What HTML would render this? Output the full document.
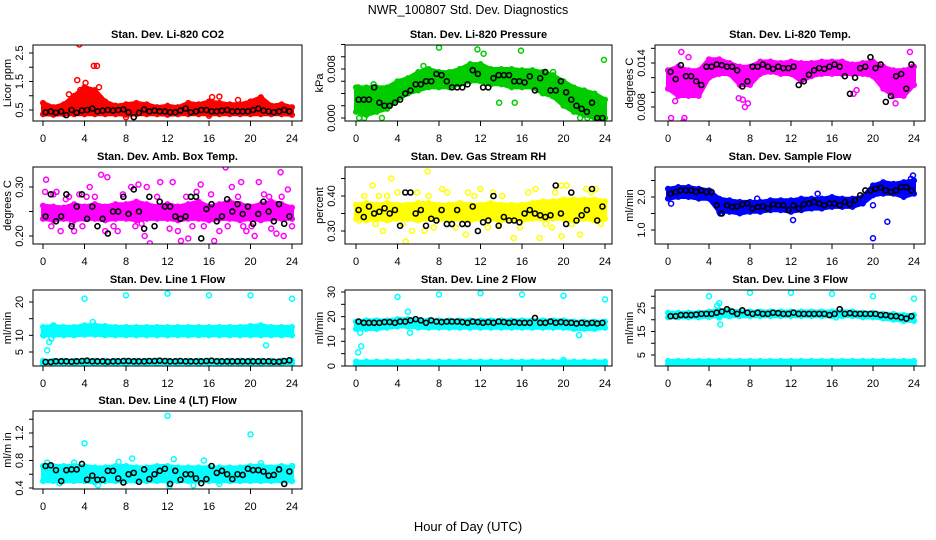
<!DOCTYPE html>
<html><head><meta charset="utf-8"><style>
html,body{margin:0;padding:0;background:#fff;}
svg{display:block;font-family:"Liberation Sans",Arial,sans-serif;}
</style></head><body>
<svg id="chart" width="936" height="540" viewBox="0 0 936 540" xmlns="http://www.w3.org/2000/svg">
<rect x="0" y="0" width="936" height="540" fill="#fff"/>
<text x="468" y="14" text-anchor="middle" font-size="12.5">NWR_100807  Std. Dev. Diagnostics</text>
<text x="468" y="531" text-anchor="middle" font-size="13">Hour of Day (UTC)</text>
</svg>
<script>
// ---- data (hourly envelopes 0..24, outliers, black half-hour means) ----
const hours = [0,1,2,3,4,5,6,7,8,9,10,11,12,13,14,15,16,17,18,19,20,21,22,23,24];
const xTicks = [0,4,8,12,16,20,24];

const co2Lo = [0.35,0.33,0.35,0.35,0.35,0.35,0.35,0.35,0.33,0.35,0.35,0.35,0.33,0.35,0.35,0.35,0.35,0.35,0.35,0.35,0.35,0.35,0.35,0.35,0.33];
const co2Hi = [0.75,0.6,0.7,1.0,1.3,1.2,0.8,0.65,0.7,0.75,0.7,0.6,0.65,0.6,0.75,0.7,0.8,0.75,0.7,0.7,0.8,0.95,0.65,0.7,0.6];
const co2OutX = [3.5,4.9,5.2,3.3,4.1,5.4,3.6,2.5,16.3,17,18.8,8,16,4.5,5.0,3.9];
const co2OutY = [2.8,2.05,2.05,1.55,1.45,1.3,1.2,1.05,0.95,0.97,0.85,0.25,0.3,1.2,1.0,1.1];
const co2Black = [0.42,0.45,0.4,0.45,0.32,0.5,0.4,0.48,0.5,0.55,0.45,0.48,0.5,0.48,0.5,0.52,0.42,0.25,0.4,0.52,0.45,0.48,0.45,0.45,0.42,0.42,0.48,0.55,0.42,0.45,0.5,0.5,0.45,0.45,0.48,0.5,0.45,0.45,0.45,0.45,0.5,0.55,0.48,0.45,0.42,0.45,0.5,0.45];

const presLo = [0.001,0.0005,0.001,0.0015,0.003,0.004,0.0045,0.005,0.005,0.005,0.0055,0.006,0.006,0.0055,0.0055,0.005,0.005,0.005,0.004,0.0035,0.002,0.001,0.0005,0.0,0.0];
const presHi = [0.005,0.005,0.005,0.005,0.006,0.0065,0.0075,0.008,0.0075,0.0075,0.008,0.0088,0.0088,0.008,0.008,0.008,0.0078,0.0078,0.0075,0.007,0.006,0.005,0.0045,0.004,0.003];
const presOutX = [8,11.7,12.3,15.9,23.9,0.3,0.8,2.5,21.6,22.3,13.8,15.3,0.2,1.7,19,6.5];
const presOutY = [0.0115,0.0112,0.0105,0.011,0.0095,0,0,0,0,0,0.0025,0.0025,0.005,0.0055,0.0075,0.0085];
const presBlack = [0.003,0.003,0.003,0.005,0.0025,0.002,0.002,0.0025,0.003,0.004,0.0045,0.0055,0.0055,0.006,0.006,0.0072,0.007,0.006,0.005,0.005,0.005,0.0055,0.0078,0.0072,0.005,0.005,0.0065,0.007,0.007,0.007,0.006,0.006,0.0058,0.0068,0.0045,0.0065,0.0075,0.0045,0.0045,0.006,0.0042,0.003,0.002,0.0015,0.001,0.0025,0.0,0.0];

const tempLo = [0.0105,0.0095,0.0095,0.0095,0.012,0.0125,0.0125,0.011,0.011,0.0125,0.0128,0.0125,0.0125,0.0115,0.0122,0.0125,0.0125,0.0125,0.0125,0.0125,0.0122,0.0105,0.0095,0.0095,0.011];
const tempHi = [0.013,0.0135,0.013,0.013,0.0145,0.0145,0.014,0.0135,0.0135,0.0142,0.0142,0.014,0.0142,0.014,0.014,0.0142,0.0142,0.0142,0.0138,0.014,0.0142,0.0135,0.013,0.013,0.0135];
const tempOutX = [0.3,1.5,1.6,1.3,0.7,7.5,7.8,7.3,18.4,18.1,22.2,23.6,23.9,2.0,6.9];
const tempOutY = [0.0065,0.006,0.0065,0.0155,0.0088,0.008,0.0085,0.009,0.0103,0.0098,0.0085,0.0155,0.0135,0.0148,0.0092];
const tempBlack = [0.0128,0.0118,0.0137,0.0122,0.0122,0.0115,0.011,0.0135,0.0135,0.0138,0.0137,0.0135,0.0135,0.013,0.0108,0.0115,0.0135,0.0135,0.0138,0.0135,0.0132,0.0135,0.0133,0.0133,0.0135,0.011,0.0115,0.0124,0.013,0.0133,0.0132,0.0135,0.0138,0.0135,0.0122,0.0098,0.012,0.0133,0.0135,0.0148,0.0133,0.0138,0.0087,0.0095,0.0122,0.0125,0.0105,0.0138];

const ambLo = [0.235,0.232,0.235,0.232,0.235,0.235,0.232,0.235,0.235,0.232,0.235,0.235,0.235,0.232,0.235,0.235,0.232,0.235,0.235,0.232,0.235,0.232,0.235,0.235,0.235];
const ambHi = [0.262,0.26,0.258,0.265,0.26,0.265,0.26,0.265,0.265,0.27,0.265,0.26,0.265,0.26,0.265,0.27,0.26,0.265,0.27,0.265,0.26,0.265,0.27,0.265,0.258];
const ambOutX = [0.3,0.2,1.3,2.5,3.0,1.7,4.5,5.6,6.2,6.0,7.2,9.2,10.3,9.8,11.3,12.5,13.0,13.3,14.0,15.2,16.5,17.0,17.6,18.2,19.1,19.6,20.4,20.8,22.9,23.2,23.6,22.5,1.0,5.3,8.5,14.8,10.0,3.5,0.8,2.2,3.8,5.0,6.8,7.7,8.9,11.0,12.2,13.8,15.5,16.2,17.8,18.8,20.1,21.3,22.0,23.0,24.0,2.8,4.2,9.5,14.4,19.3,21.8];
const ambOutY = [0.315,0.29,0.29,0.28,0.21,0.21,0.3,0.325,0.32,0.21,0.21,0.305,0.185,0.2,0.31,0.31,0.21,0.19,0.195,0.305,0.19,0.21,0.34,0.3,0.31,0.21,0.2,0.31,0.33,0.2,0.295,0.205,0.285,0.24,0.3,0.29,0.3,0.285,0.22,0.275,0.22,0.28,0.22,0.285,0.22,0.28,0.215,0.28,0.22,0.285,0.22,0.28,0.22,0.285,0.215,0.28,0.22,0.225,0.28,0.225,0.22,0.22,0.28];
const ambBlack = [0.24,0.285,0.23,0.24,0.285,0.22,0.26,0.285,0.235,0.26,0.22,0.235,0.205,0.25,0.25,0.28,0.245,0.295,0.25,0.215,0.28,0.22,0.27,0.26,0.26,0.24,0.235,0.24,0.28,0.28,0.195,0.255,0.265,0.23,0.24,0.275,0.25,0.265,0.245,0.26,0.225,0.245,0.27,0.25,0.23,0.265,0.225,0.24];

const rhLo = [0.335,0.33,0.335,0.33,0.335,0.335,0.33,0.335,0.335,0.33,0.335,0.33,0.335,0.335,0.33,0.335,0.33,0.335,0.335,0.335,0.335,0.33,0.335,0.33,0.335];
const rhHi = [0.375,0.38,0.375,0.38,0.375,0.375,0.38,0.38,0.375,0.375,0.38,0.375,0.375,0.38,0.375,0.375,0.375,0.38,0.385,0.385,0.39,0.39,0.39,0.39,0.385];
const rhOutX = [3.4,1.6,6.9,4.8,8.3,10.8,13.2,15.2,17.7,17.3,19.8,19.8,20.3,22.2,23.1,21.6,0.3,2.6,5.4,6.6,10.6,4.0,12.0,0.8,1.9,3.0,4.5,5.9,7.5,8.8,9.6,11.4,12.7,14.1,15.8,16.6,18.3,19.2,20.8,22.7,23.6,2.2,7.0,13.8,18.9];
const rhOutY = [0.45,0.43,0.47,0.27,0.42,0.41,0.41,0.28,0.28,0.42,0.285,0.43,0.43,0.42,0.42,0.29,0.33,0.3,0.3,0.3,0.29,0.41,0.42,0.4,0.32,0.4,0.32,0.41,0.31,0.41,0.31,0.4,0.31,0.4,0.31,0.41,0.32,0.41,0.32,0.41,0.32,0.4,0.4,0.32,0.31];
const rhBlack = [0.36,0.34,0.37,0.35,0.355,0.365,0.35,0.36,0.315,0.41,0.41,0.35,0.36,0.315,0.335,0.33,0.36,0.32,0.32,0.36,0.32,0.32,0.37,0.30,0.325,0.33,0.40,0.315,0.34,0.33,0.33,0.325,0.35,0.36,0.35,0.345,0.34,0.345,0.43,0.35,0.32,0.41,0.33,0.345,0.36,0.42,0.33,0.37];

const flowLo = [1.95,2.0,2.0,1.95,1.95,1.55,1.55,1.5,1.55,1.55,1.6,1.6,1.55,1.6,1.65,1.65,1.7,1.7,1.7,1.8,2.05,2.1,2.1,2.0,2.1];
const flowHi = [2.25,2.3,2.3,2.25,2.2,1.95,1.9,1.85,1.85,1.85,1.9,1.9,1.9,1.95,1.95,1.95,2.0,1.95,1.95,2.0,2.35,2.45,2.4,2.45,2.5];
const flowOutX = [20,21.4,12.2,20,5.1,23.9,23.7,0.3,8.7,14.6];
const flowOutY = [0.75,1.25,1.3,1.75,1.5,2.65,2.55,1.8,1.95,2.1];
const flowBlack = [2.1,2.15,2.2,2.2,2.2,2.15,2.2,2.15,2.15,1.75,1.5,1.75,1.7,1.72,1.78,1.8,1.65,1.7,1.72,1.65,1.78,1.75,1.75,1.6,1.75,1.65,1.78,1.8,1.85,1.8,1.75,1.8,1.8,1.75,1.85,1.78,1.9,2.05,2.2,2.2,2.25,2.28,2.2,2.15,2.2,2.3,2.3,2.2];

const l1Lo = [10,10,10,10,10.2,10.2,10,10,10,10,10,10,10,10,10,10,10,10,10,10,10,10,10,10,10];
const l1Hi = [12.5,12.8,12.5,12.5,13,13,12.8,12.5,12.5,12.5,12.5,12.5,12.5,12.5,12.5,12.5,12.5,12.5,12.5,12.5,12.8,13,12.5,12.5,12.5];
const l1Lo2 = [1.6,1.6,1.6,1.6,1.6,1.6,1.6,1.6,1.6,1.6,1.6,1.6,1.6,1.6,1.6,1.6,1.6,1.6,1.6,1.6,1.6,1.6,1.6,1.6,1.6];
const l1Hi2 = [2.4,2.4,2.4,2.4,2.4,2.4,2.4,2.4,2.4,2.4,2.4,2.4,2.4,2.4,2.4,2.4,2.4,2.4,2.4,2.4,2.4,2.4,2.4,2.4,2.4];
const l1OutX = [4,8,12,16,20,24,0.4,0.6,0.8,21.5,0.1,4.8,1,0];
const l1OutY = [21,22,22.5,22,22,21,5.5,8,9,7,10,14,13,1.5];
const l1Black = [2,2,2.2,2.2,2.2,2.1,2.2,2.3,2.4,2.2,2.2,2.2,2.1,2.2,2.2,2.3,2.3,2.2,2.2,2.2,2.3,2.3,2.4,2.3,2.2,2.2,2.3,2.2,2.2,2.2,2.2,2.3,2.4,2.2,2.2,2.2,2.2,2.2,2.2,2.2,2.2,2.2,2.2,2.2,2.1,2.1,2.3,2.5];

const l2Lo = [15,15,15,15.5,16,16,15.5,15.5,15.5,15.5,15.5,15.5,15.5,15.5,15.5,15.5,15.5,15.5,15.5,15.5,15.5,15,15,15,15.5];
const l2Hi = [18,18.5,18.5,18.5,19,19,18.5,18.5,18.5,18.5,18.5,18.5,18.5,18.5,18.5,18.5,18.5,18.5,18.5,18.5,18.5,18,18,18,18];
const l2Lo2 = [0.5,0.5,0.5,0.5,0.5,0.5,0.5,0.5,0.5,0.5,0.5,0.5,0.5,0.5,0.5,0.5,0.5,0.5,0.5,0.5,0.5,0.5,0.5,0.5,0.5];
const l2Hi2 = [1.8,1.8,1.8,1.8,1.8,1.8,1.8,1.8,1.8,1.8,1.8,1.8,1.8,1.8,1.8,1.8,1.8,1.8,1.8,1.8,1.8,1.8,1.8,1.8,1.8];
const l2OutX = [4,8,12,16,20,24,0.2,0.5,0.1,0.4,5,5.2,21.5,20];
const l2OutY = [28,29,29.5,29,28.5,27,5.5,8,16,13.5,22,13.5,12.5,2.5];
const l2Black = [18,17.5,17.5,17.5,17.5,17.8,17.8,17.5,18,18,18.5,19,18.5,17.5,18.5,18,17.8,18,18,18,17.8,17.5,18,17.8,17.5,17.8,17.5,18,17.8,17.5,17.8,17.5,17.5,17.5,19.5,17.5,17.5,18,17.5,17.8,17.5,17.5,17.2,17.5,17.2,17.5,17.2,17.5];

const l3Lo = [21,21,21,21,21.2,21.5,21.5,21.5,21.5,21.5,21.5,21.5,21.5,21.5,21.5,21.5,21.5,21.5,21.5,21,21,20.5,20,19.5,19.5];
const l3Hi = [23,23,23,23,23.5,24,24,23.5,23.5,23.5,23.5,23.5,23.5,23.5,23.5,23.5,23.5,23.5,23.5,23,23,22.5,22.5,22,22];
const l3Lo2 = [1,1,1,1,1,1,1,1,1,1,1,1,1,1,1,1,1,1,1,1,1,1,1,1,1];
const l3Hi2 = [2.5,2.5,2.5,2.5,2.5,2.5,2.5,2.5,2.5,2.5,2.5,2.5,2.5,2.5,2.5,2.5,2.5,2.5,2.5,2.5,2.5,2.5,2.5,2.5,2.5];
const l3OutX = [4,8,12,16,20,24,4.8,5,5.1,5,16.4,15.8];
const l3OutY = [30,31.5,31.5,31,30,29,26,27,18,21,21,22.5];
const l3Black = [21.5,21.5,22,22,22,22.2,22.5,22.5,22.5,23,23.5,24.5,23.5,22.5,24,23,22.5,23,22.5,22.5,23,22.8,22.5,22.5,23,22.5,22.5,22.5,22.5,22.5,22.5,22,22.5,24.5,22.5,22.8,22.5,22.5,22.5,22.5,22.5,22,22,21.5,21.5,21,20.5,21.5];

const l4Lo = [0.5,0.5,0.5,0.5,0.5,0.48,0.5,0.5,0.5,0.5,0.5,0.5,0.5,0.5,0.5,0.5,0.5,0.5,0.5,0.5,0.5,0.5,0.5,0.5,0.5];
const l4Hi = [0.72,0.72,0.72,0.72,0.72,0.7,0.7,0.72,0.72,0.7,0.7,0.72,0.72,0.7,0.7,0.7,0.7,0.7,0.7,0.7,0.72,0.72,0.7,0.72,0.7];
const l4OutX = [4,12,20,8.6,12.6,15.5,5.3,12.2,14.5,0.4,3,7.3,21,24,1.6,17];
const l4OutY = [1.05,1.45,1.18,0.83,0.82,0.8,0.44,0.43,0.44,0.77,0.77,0.78,0.76,0.72,0.47,0.46];
const l4Black = [0.72,0.73,0.66,0.5,0.66,0.67,0.67,0.75,0.52,0.58,0.52,0.52,0.65,0.65,0.54,0.48,0.6,0.62,0.49,0.67,0.53,0.6,0.65,0.68,0.46,0.65,0.52,0.6,0.6,0.54,0.47,0.53,0.72,0.62,0.65,0.6,0.53,0.6,0.59,0.68,0.66,0.66,0.64,0.58,0.59,0.67,0.46,0.64];

// ---- layout ----
const NS = "http://www.w3.org/2000/svg";
const svg = document.getElementById('chart');
const cols = [{l:33,r:302,x0:43,x24:292},{l:345,r:612,x0:356,x24:605},{l:655,r:925,x0:668,x24:914}];
const rows = [{t:45,b:121},{t:167,b:244},{t:290,b:366},{t:411,b:489}];

const panels = [
 {id:'co2',title:'Stan. Dev. Li-820 CO2',ylab:'Licor ppm',c:0,r:0,col:'#ff0000',v1:0.5,p1:110,v2:2.5,p2:53,ticks:[0.5,1,1.5,2,2.5],labs:[0.5,1.5,2.5],fmt:1,lo:co2Lo,hi:co2Hi,ox:co2OutX,oy:co2OutY,bk:co2Black},
 {id:'pressure',title:'Stan. Dev. Li-820 Pressure',ylab:'kPa',c:1,r:0,col:'#00cc00',v1:0,p1:118,v2:0.008,p2:69,ticks:[0,0.002,0.004,0.006,0.008,0.010,0.012,0.014],labs:[0,0.008],fmt:3,lo:presLo,hi:presHi,ox:presOutX,oy:presOutY,bk:presBlack},
 {id:'temp',title:'Stan. Dev. Li-820 Temp.',ylab:'degrees C',c:2,r:0,col:'#ff00ff',v1:0.008,p1:107,v2:0.014,p2:63,ticks:[0.008,0.010,0.012,0.014,0.016],labs:[0.008,0.014],fmt:3,lo:tempLo,hi:tempHi,ox:tempOutX,oy:tempOutY,bk:tempBlack},
 {id:'amb-box-temp',title:'Stan. Dev. Amb. Box Temp.',ylab:'degrees C',c:0,r:1,col:'#ff00ff',v1:0.2,p1:236,v2:0.3,p2:187,ticks:[0.2,0.25,0.3],labs:[0.2,0.3],fmt:2,lo:ambLo,hi:ambHi,ox:ambOutX,oy:ambOutY,bk:ambBlack},
 {id:'gas-rh',title:'Stan. Dev. Gas Stream RH',ylab:'percent',c:1,r:1,col:'#ffff00',v1:0.3,p1:231,v2:0.4,p2:196,ticks:[0.3,0.35,0.4,0.45],labs:[0.3,0.4],fmt:2,lo:rhLo,hi:rhHi,ox:rhOutX,oy:rhOutY,bk:rhBlack},
 {id:'sample-flow',title:'Stan. Dev. Sample Flow',ylab:'ml/min',c:2,r:1,col:'#0000ff',v1:1,p1:230,v2:2,p2:197,ticks:[1,1.5,2,2.5],labs:[1,2],fmt:1,lo:flowLo,hi:flowHi,ox:flowOutX,oy:flowOutY,bk:flowBlack},
 {id:'line1',title:'Stan. Dev. Line 1 Flow',ylab:'ml/min',c:0,r:2,col:'#00ffff',v1:5,p1:352,v2:20,p2:302,ticks:[5,10,15,20],labs:[5,10,20],fmt:0,lo:l1Lo,hi:l1Hi,lo2:l1Lo2,hi2:l1Hi2,ox:l1OutX,oy:l1OutY,bk:l1Black},
 {id:'line2',title:'Stan. Dev. Line 2 Flow',ylab:'ml/min',c:1,r:2,col:'#00ffff',v1:0,p1:366,v2:30,p2:292,ticks:[0,5,10,15,20,25,30],labs:[0,10,20,30],fmt:0,lo:l2Lo,hi:l2Hi,lo2:l2Lo2,hi2:l2Hi2,ox:l2OutX,oy:l2OutY,bk:l2Black},
 {id:'line3',title:'Stan. Dev. Line 3 Flow',ylab:'ml/min',c:2,r:2,col:'#00ffff',v1:5,p1:355,v2:25,p2:308,ticks:[5,10,15,20,25,30],labs:[5,15,25],fmt:0,lo:l3Lo,hi:l3Hi,lo2:l3Lo2,hi2:l3Hi2,ox:l3OutX,oy:l3OutY,bk:l3Black},
 {id:'line4',title:'Stan. Dev. Line 4 (LT) Flow',ylab:'ml/m in',c:0,r:3,col:'#00ffff',v1:0.4,p1:488,v2:1.2,p2:433,ticks:[0.4,0.6,0.8,1.0,1.2,1.4],labs:[0.4,0.8,1.2],fmt:1,lo:l4Lo,hi:l4Hi,ox:l4OutX,oy:l4OutY,bk:l4Black}
];

function mk(tag, attrs, parent){
  const e = document.createElementNS(NS, tag);
  for (const k in attrs) e.setAttribute(k, attrs[k]);
  (parent||svg).appendChild(e);
  return e;
}

panels.forEach(p => {
  const C = cols[p.c], R = rows[p.r];
  const sx = h => C.x0 + h/24*(C.x24 - C.x0);
  const sy = v => p.p1 + (v - p.v1)/(p.v2 - p.v1)*(p.p2 - p.p1);
  const g = mk('g', {});
  
  
  const clipId = 'clip-' + p.id;
  const cp = mk('clipPath', {id: clipId}, g);
  mk('rect', {x:C.l, y:R.t, width:C.r-C.l, height:R.b-R.t}, cp);
  const marks = mk('g', {'clip-path':'url(#'+clipId+')'}, g);

  const bands = [[p.lo, p.hi]];
  if (p.lo2) bands.push([p.lo2, p.hi2]);
  bands.forEach((b, bi) => {
    let pts = hours.map((h,i) => sx(h).toFixed(1)+','+sy(b[1][i]).toFixed(1));
    pts = pts.concat(hours.slice().reverse().map((h,j) => { const i = hours.length-1-j; return sx(h).toFixed(1)+','+sy(b[0][i]).toFixed(1); }));
    const poly = mk('polygon', {points: pts.join(' '), fill: p.col, stroke: p.col, 'stroke-width': 4, 'stroke-linejoin':'round'}, marks);
    
    
    hours.forEach((h,i) => {
      [b[0][i], b[1][i]].forEach(v => {
        const c = mk('circle', {cx: sx(h), cy: sy(v), r: 2.3, fill: 'none', stroke: p.col, 'stroke-width': 1.5}, marks);
        
        
      });
    });
  });
  p.ox.forEach((h,i) => {
    const c = mk('circle', {cx: sx(h), cy: sy(p.oy[i]), r: 2.5, fill: 'none', stroke: p.col, 'stroke-width': 1.5}, marks);
    
    
  });
  const n = p.bk.length;
  p.bk.forEach((v,i) => {
    const c = mk('circle', {cx: sx((i+0.5)*24/n), cy: sy(v), r: 2.5, fill: 'none', stroke: '#000', 'stroke-width': 1.6}, marks);
    
    
  });

  const box = mk('rect', {x:C.l, y:R.t, width:C.r-C.l, height:R.b-R.t, fill:'none', stroke:'#000', 'stroke-width':1}, g);
  
  

  const t = mk('text', {x:(C.l+C.r)/2, y:R.t-7, 'text-anchor':'middle', 'font-size':11, 'font-weight':'bold'}, g);
  t.textContent = p.title;
  
  

  xTicks.forEach(h => {
    mk('line', {x1:sx(h), x2:sx(h), y1:R.b, y2:R.b+5, stroke:'#000'}, g);
    const l = mk('text', {x:sx(h), y:R.b+21, 'text-anchor':'middle', 'font-size':11}, g);
    l.textContent = h;
    
    
  });
  p.ticks.forEach(v => {
    const y = sy(v);
    if (y < R.t-0.5 || y > R.b+0.5) return;
    mk('line', {x1:C.l-4, x2:C.l, y1:y, y2:y, stroke:'#000'}, g);
  });
  p.labs.forEach(v => {
    const y = sy(v), x = C.l-10;
    const l = mk('text', {x:x, y:y, 'text-anchor':'middle', 'font-size':11, transform:'rotate(-90 '+x+' '+y+')'}, g);
    l.textContent = v.toFixed(p.fmt);
    
    
  });
  const ax = C.l-22, ay = (R.t+R.b)/2;
  const yl = mk('text', {x:ax, y:ay, 'text-anchor':'middle', 'font-size':11, transform:'rotate(-90 '+ax+' '+ay+')'}, g);
  yl.textContent = p.ylab;
  
  
});
</script>
</body></html>
